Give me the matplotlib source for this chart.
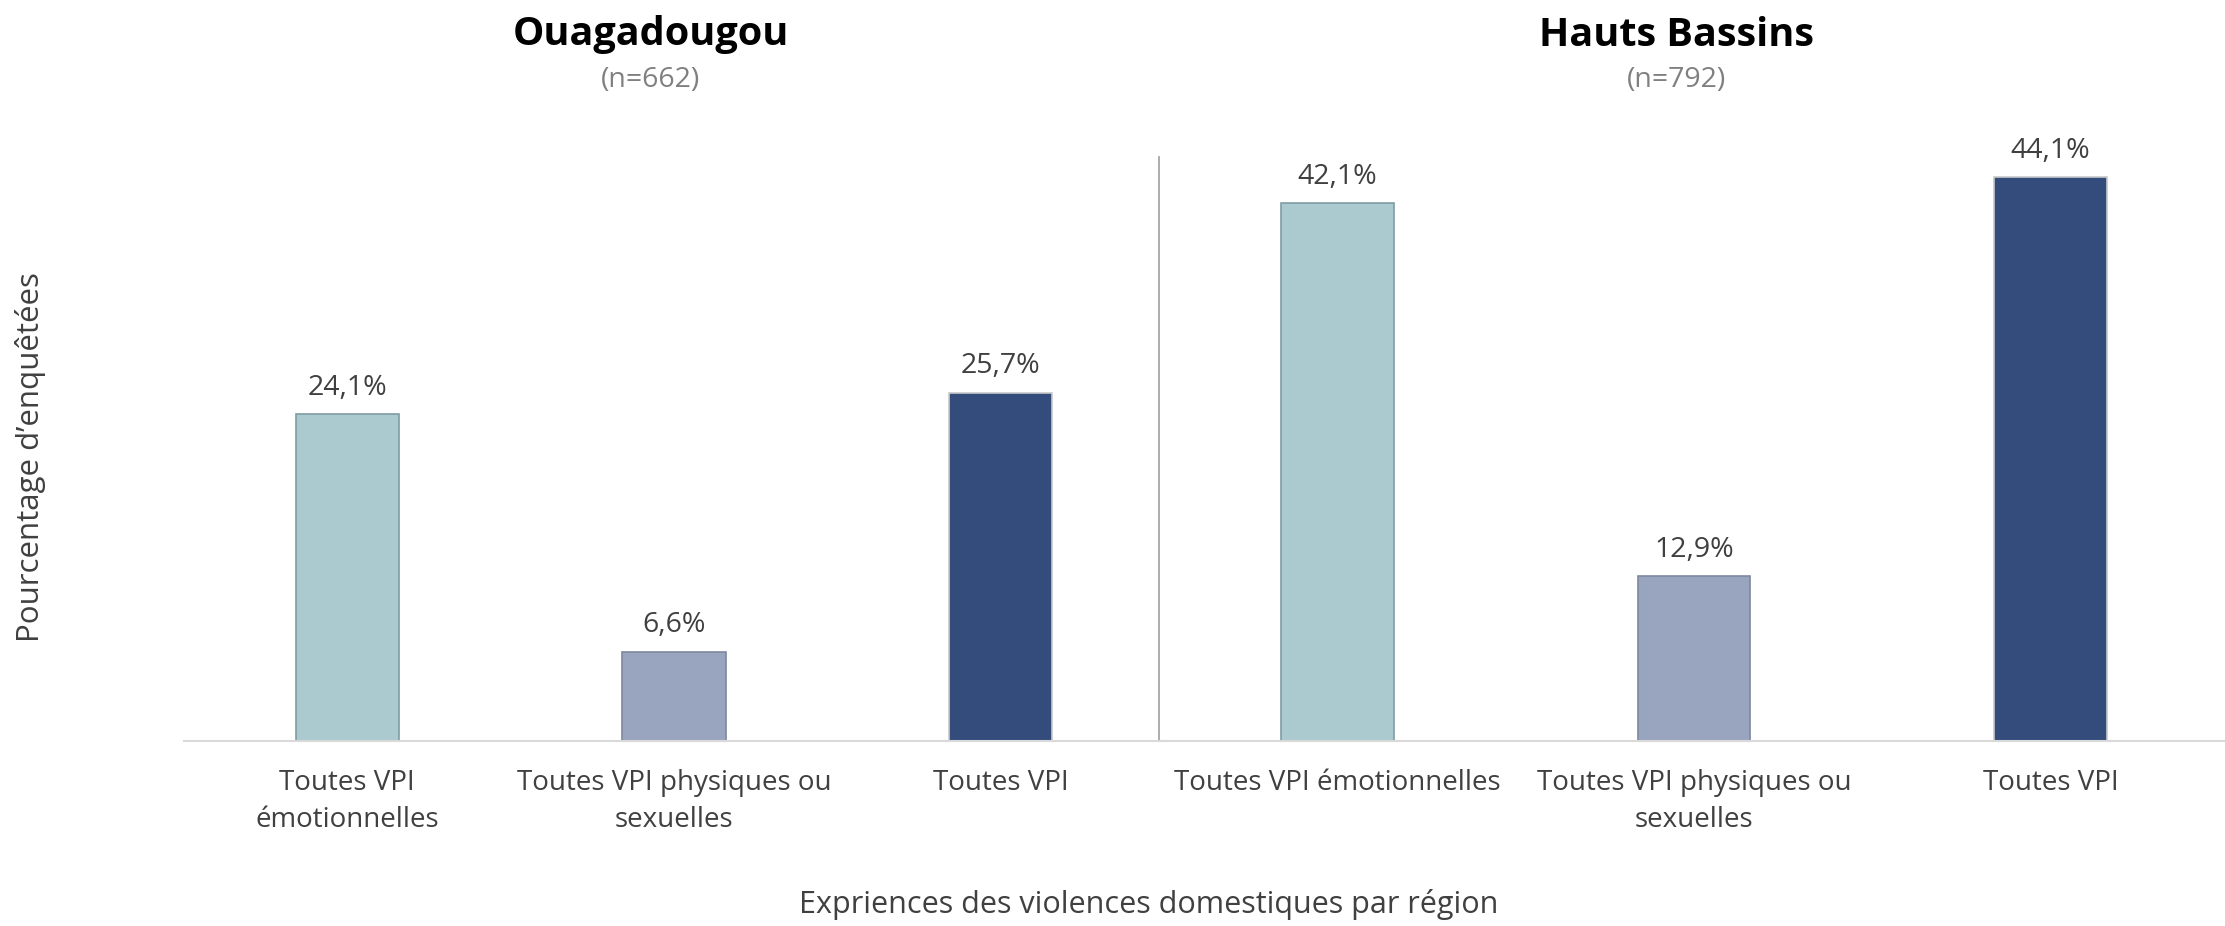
import matplotlib.pyplot as plt

plt.rcParams['font.family'] = ['Open Sans', 'DejaVu Sans']

# Données
regions = ["Ouagadougou", "Hauts Bassins"]
effectifs = ["(n=662)", "(n=792)"]
labels_ouaga = ["Toutes VPI\némotionnelles", "Toutes VPI physiques ou\nsexuelles", "Toutes VPI"]
labels_hb = ["Toutes VPI émotionnelles", "Toutes VPI physiques ou\nsexuelles", "Toutes VPI"]
valeurs_ouaga = [24.1, 6.6, 25.7]
valeurs_hb = [42.1, 12.9, 44.1]

couleurs = ["#AACAD0", "#99A5BF", "#334C7C"]
bords = ["#7F9CA3", "#7E879E", "#C8C8C8"]
txt_col = "#404040"

W, H = 2225, 926
fig = plt.figure(figsize=(W / 100, H / 100), dpi=100)

base, top = 741, 157
ax_b = 1 - base / H
ax_h = (base - top) / H

ax1 = fig.add_axes([184 / W, ax_b, (1164 - 184) / W, ax_h])
ax2 = fig.add_axes([1159 / W, ax_b, (2229 - 1159) / W, ax_h])

configs = [
    (ax1, valeurs_ouaga, labels_ouaga, 0.317, 43.07),
    (ax2, valeurs_hb, labels_hb, 0.315, 45.66),
]

for ax, vals, labs, width, ymax in configs:
    x = range(len(vals))
    ax.bar(x, vals, width=width, color=couleurs, edgecolor=bords, linewidth=1.2, zorder=2)
    for xi, v in zip(x, vals):
        ax.text(xi, v + 0.9, f"{v:.1f}%".replace(".", ","), ha='center', va='bottom',
                fontsize=20.5, color=txt_col)
    ax.set_xlim(-0.5, 2.5)
    ax.set_ylim(0, ymax)
    ax.set_yticks([])
    ax.set_xticks(list(x))
    ax.set_xticklabels(labs, fontsize=20, color=txt_col, linespacing=1.45)
    ax.tick_params(axis='x', length=0, pad=20)
    for s in ['top', 'right', 'left']:
        ax.spines[s].set_visible(False)
    ax.spines['bottom'].set_color('#D9D9D9')
    ax.spines['bottom'].set_linewidth(1.5)
    ax.patch.set_alpha(0)

# séparateur vertical
ax2.spines['left'].set_visible(True)
ax2.spines['left'].set_color('#A6A6A6')
ax2.spines['left'].set_linewidth(1.3)

# titres
for cx, reg, n in zip([651, 1677], regions, effectifs):
    fig.text(cx / W, 1 - 35 / H, reg, ha='center', va='center', fontsize=28.5,
             fontweight='bold', color='black')
    fig.text(cx / W, 1 - 80 / H, n, ha='center', va='center', fontsize=20.5, color='#808080')

fig.text(1149 / W, 1 - 905 / H, "Expriences des violences domestiques par région",
         ha='center', va='center', fontsize=22, color=txt_col)
fig.text(31 / W, 1 - 457 / H, "Pourcentage d\u2019enquêtées", ha='center', va='center',
         rotation=90, fontsize=22.5, color=txt_col)

fig.savefig("out.png", dpi=100)
